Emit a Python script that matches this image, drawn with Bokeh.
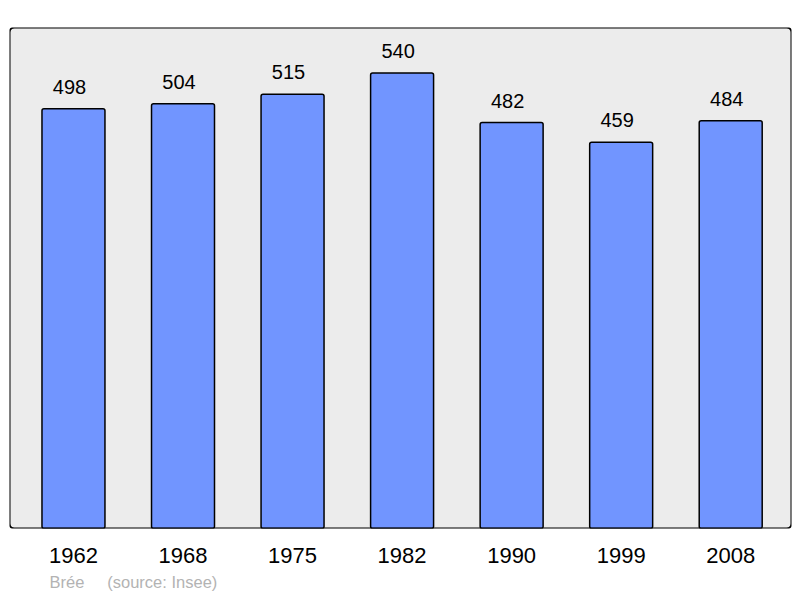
from bokeh.plotting import figure
from bokeh.models import Range1d, FixedTicker, BoxAnnotation, Title, ColumnDataSource
from bokeh.core.properties import value
from bokeh.embed import file_html
from bokeh.resources import INLINE

years = ["1962", "1968", "1975", "1982", "1990", "1999", "2008"]
population = [498, 504, 515, 540, 482, 459, 484]
place = "Brée"
source_note = "(source: Insee)"

idx = list(range(len(years)))
src = ColumnDataSource(dict(x=idx, top=population, label=[str(v) for v in population]))

FONT = "Liberation Sans"

p = figure(width=800, height=598, output_backend="svg", toolbar_location=None,
           x_range=Range1d(-0.584, 6.555), y_range=Range1d(8, 593),
           y_axis_location=None,
           min_border_left=9, min_border_right=9, min_border_top=27, min_border_bottom=70)
p.background_fill_color = "white"
p.border_fill_color = "white"
p.outline_line_color = None
p.grid.visible = False

p.add_layout(BoxAnnotation(fill_color="#ececec", fill_alpha=1, line_color=None,
                           border_radius=5, level="underlay"))
p.vbar(x="x", top="top", bottom=0, width=0.575, source=src,
       fill_color="#7195ff", line_color="black", line_width=1.5, border_radius=2)
p.add_layout(BoxAnnotation(fill_color=None, fill_alpha=0, line_color="black", line_width=2,
                           line_alpha=1, border_radius=5))

p.text(x="x", y="top", text="label", source=src, text_align="center", text_baseline="middle",
       x_offset=-4, y_offset=-22, text_font=value(FONT), text_font_size="20px", text_color="black")

ax = p.xaxis[0]
ax.ticker = FixedTicker(ticks=idx)
ax.major_label_overrides = {i: y for i, y in zip(idx, years)}
ax.axis_line_color = None
ax.major_tick_line_color = None
ax.minor_tick_line_color = None
ax.major_label_text_font = FONT
ax.major_label_text_font_size = "22px"
ax.major_label_text_color = "black"
ax.major_label_standoff = 13

footer = place + "\u00a0" * 5 + source_note
p.add_layout(Title(text=footer, align="left", offset=40, text_font=FONT, text_font_size="16.5px",
                   text_color="#b3b3b3", text_font_style="normal", standoff=10), "below")

open("out.html", "w").write(file_html(p, INLINE))
